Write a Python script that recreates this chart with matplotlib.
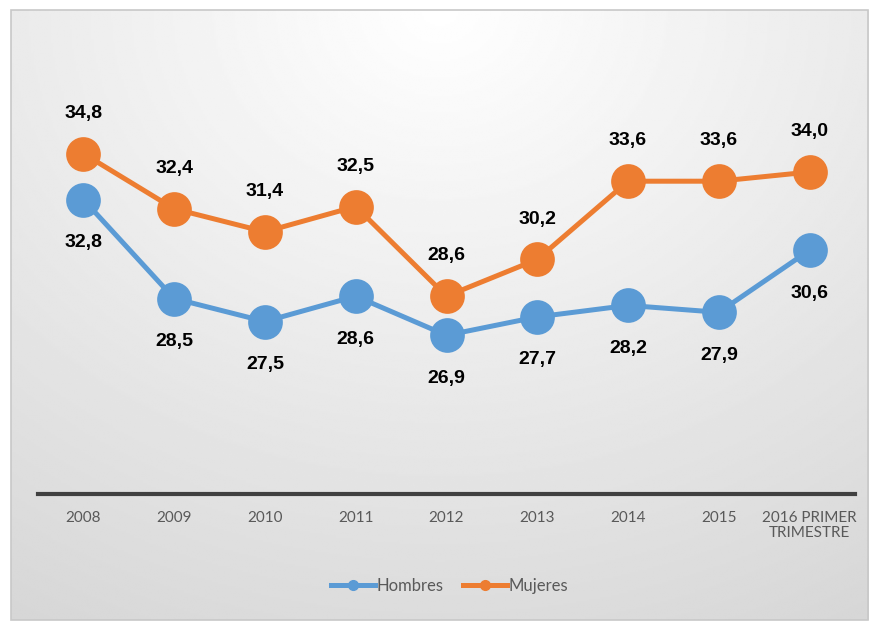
import numpy as np
import matplotlib.pyplot as plt
from matplotlib.patches import Rectangle
from matplotlib.lines import Line2D

categorias = ['2008', '2009', '2010', '2011', '2012', '2013', '2014', '2015',
              '2016 PRIMER\nTRIMESTRE']
hombres = [32.8, 28.5, 27.5, 28.6, 26.9, 27.7, 28.2, 27.9, 30.6]
mujeres = [34.8, 32.4, 31.4, 32.5, 28.6, 30.2, 33.6, 33.6, 34.0]

AZUL = '#5B9BD5'
NARANJA = '#ED7D31'
GRIS_TXT = '#595959'

fig = plt.figure(figsize=(8.73, 6.21), dpi=100)

# fondo con degradado radial
bg = fig.add_axes([0.0126, 0.0016, 0.9817, 0.9823], zorder=-10)
yy, xx = np.mgrid[0:1:300j, 0:1:400j]
d = np.sqrt(((xx - 0.5) * 1.0) ** 2 + (yy * 0.85) ** 2)
d = np.clip(d / d.max(), 0, 1)
val = 1.0 - 0.16 * d
bg.imshow(val, cmap='gray', vmin=0, vmax=1, aspect='auto',
          extent=[0, 1, 1, 0], interpolation='bilinear')
bg.set_xlim(0, 1)
bg.set_ylim(1, 0)
bg.axis('off')
fig.patches.append(Rectangle((0.0126, 0.0016), 0.9817, 0.9823,
                             transform=fig.transFigure, fill=False,
                             edgecolor='#c8c8c8', lw=1.2, zorder=5))

ax = fig.add_axes([38 / 873, 1 - 494 / 621, (855 - 38) / 873, (494 - 34) / 621])
ax.patch.set_alpha(0)
x = np.arange(len(categorias))

ax.plot(x, hombres, color=AZUL, lw=3.6, marker='o', ms=25,
        markeredgewidth=0, zorder=3)
ax.plot(x, mujeres, color=NARANJA, lw=3.6, marker='o', ms=25,
        markeredgewidth=0, zorder=4)

lab_font = dict(family=['Liberation Sans', 'DejaVu Sans'],
                fontsize=14, fontweight='bold', color='black')

for i, v in enumerate(mujeres):
    ax.annotate(f'{v:.1f}'.replace('.', ','), (i, v), xytext=(0, 29),
                textcoords='offset points', ha='center', va='center', **lab_font)
for i, v in enumerate(hombres):
    ax.annotate(f'{v:.1f}'.replace('.', ','), (i, v), xytext=(0, -31),
                textcoords='offset points', ha='center', va='center', **lab_font)

ax.set_xlim(-0.5, len(categorias) - 0.5)
ax.set_ylim(20, 40)
ax.set_xticks(x)
ax.set_xticklabels(categorias, family=['Lato', 'DejaVu Sans'], fontsize=11,
                   color=GRIS_TXT, linespacing=1.1)
ax.tick_params(axis='x', length=0, pad=12)
ax.set_yticks([])
for s in ['top', 'right', 'left']:
    ax.spines[s].set_visible(False)
ax.spines['bottom'].set_color('#404040')
ax.spines['bottom'].set_linewidth(3)

handles = [Line2D([], [], color=AZUL, lw=3.6, marker='o', ms=7),
           Line2D([], [], color=NARANJA, lw=3.6, marker='o', ms=7)]
fig.legend(handles, ['Hombres', 'Mujeres'], loc='center',
           bbox_to_anchor=(0.515, 0.057), ncol=2, frameon=False,
           handlelength=2.6, handletextpad=0.1, columnspacing=1.2,
           prop={'family': ['Lato', 'DejaVu Sans'], 'size': 12},
           labelcolor=GRIS_TXT)

fig.savefig('out.png', dpi=100)
